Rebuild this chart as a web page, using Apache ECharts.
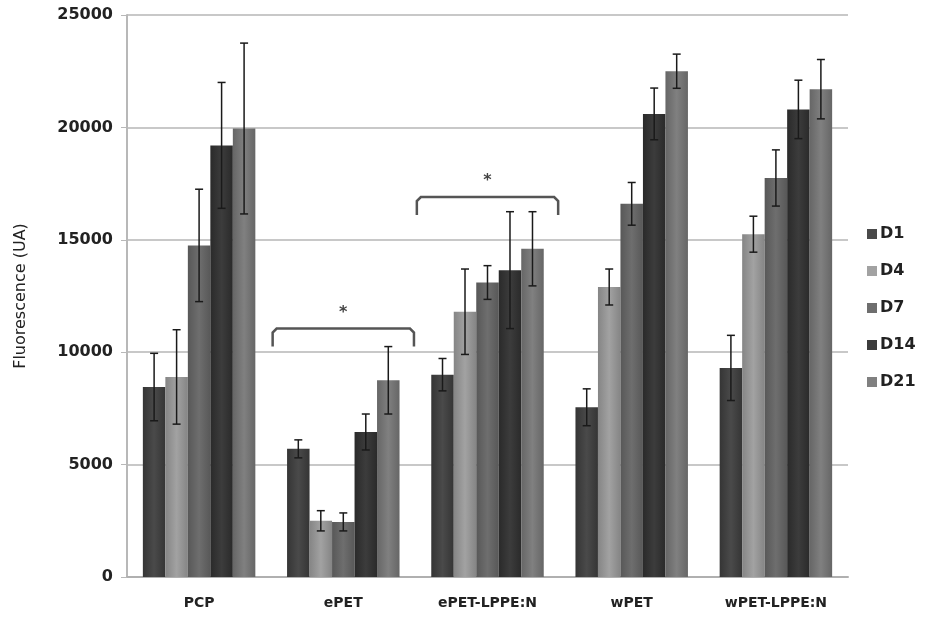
<!DOCTYPE html>
<html>
<head>
<meta charset="utf-8">
<script src="https://cdn.jsdelivr.net/npm/echarts@6/dist/echarts.min.js"></script>
<style>
  html, body { margin: 0; padding: 0; background: #fff; }
  #chart { width: 928px; height: 618px; }
</style>
</head>
<body>
<div id="chart"></div>
<script>
var categories = ['PCP', 'ePET', 'ePET-LPPE:N', 'wPET', 'wPET-LPPE:N'];
var seriesNames = ['D1', 'D4', 'D7', 'D14', 'D21'];

// mean values per day (one array per series, by category)
var d1 = [8450, 5700, 9000, 7550, 9300];
var d4 = [8900, 2500, 11800, 12900, 15250];
var d7 = [14750, 2450, 13100, 16600, 17750];
var d14 = [19200, 6450, 13650, 20600, 20800];
var d21 = [19950, 8750, 14600, 22500, 21700];

// standard deviations
var e1 = [1500, 400, 720, 820, 1450];
var e4 = [2100, 450, 1900, 800, 800];
var e7 = [2500, 400, 750, 950, 1250];
var e14 = [2800, 800, 2600, 1150, 1300];
var e21 = [3800, 1500, 1650, 760, 1320];

// significance brackets: [category index, bracket height]
var brackets = [[1, 11050], [2, 16900]];

var yTicks = { min: 0, max: 25000, interval: 5000 };

var means = [d1, d4, d7, d14, d21];
var errs = [e1, e4, e7, e14, e21];
var colors = [
  ['#353535', '#4a4a4a'],
  ['#858585', '#a2a2a2'],
  ['#585858', '#6e6e6e'],
  ['#2a2a2a', '#3c3c3c'],
  ['#666666', '#808080']
];

var catGap = 0.22;

var dom = document.getElementById('chart');
var myChart = echarts.init(dom);

function barFill(c) {
  return new echarts.graphic.LinearGradient(0, 0, 1, 0, [
    { offset: 0, color: c[0] },
    { offset: 0.5, color: c[1] },
    { offset: 1, color: c[0] }
  ]);
}

function errorRender(si) {
  return function (params, api) {
    var idx = api.value(0);
    var lowPt = api.coord([idx, api.value(1)]);
    var highPt = api.coord([idx, api.value(2)]);
    var band = api.size([1, 0])[0];
    var groupW = band * (1 - catGap);
    var barW = groupW / seriesNames.length;
    var x = lowPt[0] - groupW / 2 + barW * (si + 0.5);
    var cap = 4;
    var st = { stroke: '#1a1a1a', lineWidth: 1.5 };
    return {
      type: 'group',
      children: [
        { type: 'line', shape: { x1: x, y1: highPt[1], x2: x, y2: lowPt[1] }, style: st },
        { type: 'line', shape: { x1: x - cap, y1: highPt[1], x2: x + cap, y2: highPt[1] }, style: st },
        { type: 'line', shape: { x1: x - cap, y1: lowPt[1], x2: x + cap, y2: lowPt[1] }, style: st }
      ]
    };
  };
}

function bracketRender(params, api) {
  var idx = api.value(0);
  var p = api.coord([idx, api.value(1)]);
  var band = api.size([1, 0])[0];
  var half = band * 0.49;
  var drop = 18;
  var r = 4;
  var x1 = p[0] - half, x2 = p[0] + half, y = p[1];
  return {
    type: 'group',
    children: [
      {
        type: 'polyline',
        shape: { points: [[x1, y + drop], [x1, y + r], [x1 + r, y], [x2 - r, y], [x2, y + r], [x2, y + drop]] },
        style: { stroke: '#555', lineWidth: 2.5, fill: null }
      },
      {
        type: 'text',
        style: { text: '*', x: p[0], y: y - 16, align: 'center', verticalAlign: 'middle', fill: '#444', font: 'bold 16px "DejaVu Sans"' }
      }
    ]
  };
}

var series = [];
seriesNames.forEach(function (name, i) {
  series.push({
    name: name,
    type: 'bar',
    barGap: '0%',
    barCategoryGap: (catGap * 100) + '%',
    data: means[i],
    itemStyle: { color: barFill(colors[i]) }
  });
});
seriesNames.forEach(function (name, i) {
  series.push({
    type: 'custom',
    renderItem: errorRender(i),
    silent: true,
    z: 5,
    data: means[i].map(function (v, k) { return [k, v - errs[i][k], v + errs[i][k]]; })
  });
});
series.push({
  type: 'custom',
  renderItem: bracketRender,
  silent: true,
  z: 6,
  data: brackets
});

var option = {
  animation: false,
  backgroundColor: '#fff',
  grid: { left: 127, right: 80, top: 15, bottom: 41, containLabel: false },
  legend: {
    orient: 'vertical',
    left: 862,
    top: 221,
    itemGap: 21,
    itemWidth: 10,
    itemHeight: 10,
    icon: 'rect',
    data: seriesNames.map(function (n, i) { return { name: n, itemStyle: { color: colors[i][1] } }; }),
    textStyle: { fontFamily: 'DejaVu Sans', fontWeight: 'bold', fontSize: 16, color: '#222', padding: [0, 0, 0, -2] }
  },
  xAxis: {
    type: 'category',
    data: categories,
    axisLine: { lineStyle: { color: '#b0b0b0', width: 2 } },
    axisTick: { show: false },
    axisLabel: { margin: 19, fontFamily: 'DejaVu Sans', fontWeight: 'bold', fontSize: 14, color: '#222' }
  },
  yAxis: {
    type: 'value',
    min: yTicks.min,
    max: yTicks.max,
    interval: yTicks.interval,
    name: 'Fluorescence (UA)',
    nameLocation: 'middle',
    nameGap: 98,
    nameTextStyle: { fontFamily: 'DejaVu Sans', fontSize: 16, color: '#222' },
    axisLine: { show: true, lineStyle: { color: '#b8b8b8', width: 2 } },
    axisTick: { show: true, length: 6, lineStyle: { color: '#b8b8b8' } },
    axisLabel: {
      margin: 14, fontFamily: 'DejaVu Sans', fontWeight: 'bold', fontSize: 16, color: '#222',
      formatter: function (v) { return String(v); }
    },
    splitLine: { lineStyle: { color: '#c8c8c8', width: 2 } }
  },
  series: series
};

if (option && typeof option === 'object') {
  myChart.setOption(option, true);
}
</script>
</body>
</html>
